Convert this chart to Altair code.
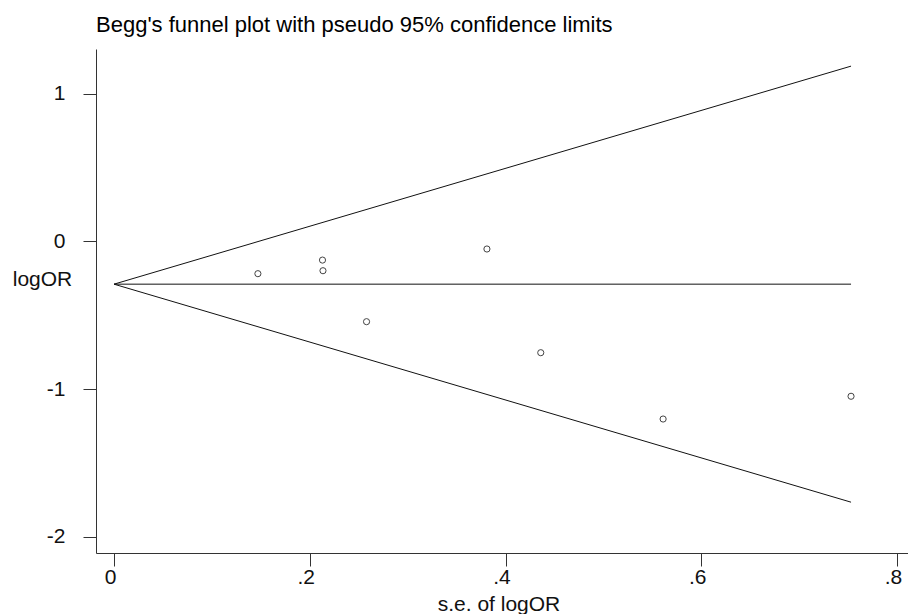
import altair as alt
import pandas as pd

# Study points
se = [0.147, 0.213, 0.2135, 0.258, 0.381, 0.436, 0.561, 0.753]
log_or = [-0.219, -0.127, -0.199, -0.544, -0.052, -0.754, -1.203, -1.049]

# Pseudo 95% confidence limits and pooled estimate
limit_se = [0.0, 0.753]
upper_limit = [-0.29, 1.186]
lower_limit = [-0.29, -1.766]
pooled = [-0.29, -0.29]

x_ticks = [0, 0.2, 0.4, 0.6, 0.8]
y_ticks = [-2, -1, 0, 1]

FONT = "Liberation Sans"

points = pd.DataFrame({"se": se, "logOR": log_or})
lines = pd.DataFrame({
    "se": limit_se * 3,
    "logOR": upper_limit + lower_limit + pooled,
    "line": ["upper"] * 2 + ["lower"] * 2 + ["pooled"] * 2,
})

x_scale = alt.Scale(domain=[-0.0184, 0.8112], nice=False, zero=False)
y_scale = alt.Scale(domain=[-2.110, 1.302], nice=False, zero=False)

x_axis = alt.Axis(
    values=x_ticks,
    title="s.e. of logOR",
    labelExpr="datum.value == 0 ? '0' : replace(datum.value + '', '0.', '.')",
    tickSize=13,
    labelPadding=17,
    labelBaseline="alphabetic",
    labelOffset=-4,
    labelFlush=False,
    labelOverlap=False,
    titleX=402.5,
    titleY=57,
    titleAlign="center",
    titleBaseline="alphabetic",
)
y_axis = alt.Axis(
    values=y_ticks,
    title="logOR",
    labelExpr="datum.value + ''",
    tickSize=13,
    labelPadding=18,
    labelFlush=False,
    labelOverlap=False,
    titleAngle=0,
    titleX=-54,
    titleY=236,
    titleAlign="center",
    titleBaseline="alphabetic",
)

line_layer = alt.Chart(lines).mark_line(color="#111111", strokeWidth=1).encode(
    x=alt.X("se:Q", scale=x_scale, axis=x_axis),
    y=alt.Y("logOR:Q", scale=y_scale, axis=y_axis),
    detail="line:N",
    order="se:Q",
)

point_layer = alt.Chart(points).mark_point(
    shape="circle", filled=False, size=38, strokeWidth=1, color="#444444", opacity=1
).encode(
    x=alt.X("se:Q", scale=x_scale),
    y=alt.Y("logOR:Q", scale=y_scale),
)

chart = alt.layer(line_layer, point_layer).properties(
    width=812,
    height=504,
    background="white",
    title=alt.TitleParams(
        "Begg's funnel plot with pseudo 95% confidence limits",
        anchor="start",
        frame="group",
        fontSize=22,
        font=FONT,
        fontWeight="normal",
        baseline="alphabetic",
        offset=16,
        dy=21,
        color="#000000",
    ),
    autosize=alt.AutoSizeParams(type="none"),
    padding={"left": 96, "top": 49, "right": 0, "bottom": 61},
).configure_view(stroke=None).configure_axis(
    grid=False,
    domainColor="#333333",
    domainWidth=1,
    tickColor="#333333",
    tickWidth=1,
    labelFont=FONT,
    labelFontSize=21,
    labelColor="#111111",
    titleFont=FONT,
    titleFontSize=21,
    titleFontWeight="normal",
    titleColor="#111111",
)

chart.save("out.html", embed_options={"renderer": "svg", "actions": False})
